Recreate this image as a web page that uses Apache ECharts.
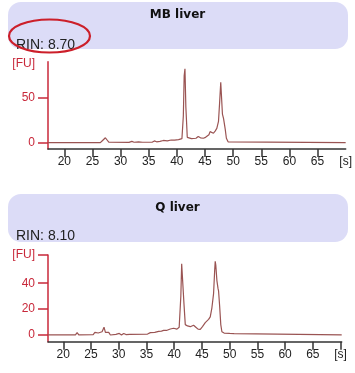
<!DOCTYPE html>
<html>
<head>
<meta charset="utf-8">
<script src="https://cdn.jsdelivr.net/npm/echarts@6/dist/echarts.min.js"></script>
<style>
html,body{margin:0;padding:0;background:#fff;}
#c{width:355px;height:373px;}
</style>
</head>
<body>
<div id="c"></div>
<script>
// ---- data ----
const panelTitles = ['MB liver', 'Q liver'];
const rinLabels = ['RIN: 8.70', 'RIN: 8.10'];
const xTickValues = [20, 25, 30, 35, 40, 45, 50, 55, 60, 65];
const xLabelValues = [20, 25, 30, 35, 40, 45, 50, 55, 60, 65, 70];
const topYTicks = [0, 50];
const bottomYTicks = [0, 20, 40, 61.8];

const mbTime = [17.1, 22.3, 22.6, 22.9, 26.4, 26.8, 27.1, 27.3, 27.6, 27.9, 31.5, 32, 32.4, 33.2, 33.5, 33.9, 35.6, 36, 36.4, 37, 37.6, 38.3, 39, 39.6, 40.3, 40.9, 41.15, 41.3, 41.44, 41.6, 41.85, 42.2, 42.6, 42.9, 43.4, 43.8, 44.2, 44.7, 45.1, 45.4, 45.7, 45.9, 46.2, 46.5, 46.8, 47.1, 47.4, 47.6, 47.8, 47.95, 48.1, 48.3, 48.45, 48.6, 48.8, 49.1, 49.4, 70];
const mbFU = [0, 0, 0.8, 0, 0, 2.5, 4, 5.5, 3, 0.5, 0.3, 1.5, 0.5, 0.8, 1.8, 0.5, 0.5, 2, 1, 1.5, 2.5, 2, 3, 2.8, 3.5, 4.5, 30, 75, 83, 40, 6, 5, 4.5, 5.5, 5, 7, 5.5, 5, 6, 4, 9, 12.4, 11, 10.6, 13, 16, 24, 45, 68, 50, 32, 27, 25, 15, 5, 1, 0, 0];

const qTime = [17.25, 22.2, 22.5, 22.8, 25.4, 25.7, 26, 26.3, 26.6, 27, 27.35, 27.6, 27.9, 28.2, 28.5, 29.5, 30.1, 30.5, 30.9, 31.3, 31.6, 32, 35.2, 35.7, 36.5, 37.2, 37.7, 38.1, 38.6, 39.3, 39.9, 40.5, 40.9, 41.2, 41.35, 41.6, 41.75, 42.0, 42.4, 42.9, 43.2, 43.5, 43.9, 44.3, 44.7, 45.1, 45.6, 46.2, 46.5, 46.8, 47.1, 47.3, 47.4, 47.5, 47.7, 47.9, 48.0, 48.2, 48.4, 48.6, 49, 50, 50.8, 51, 70.2];
const qFU = [0, 0, 1.8, 0, 0.3, 2, 0.5, 1.5, 0.5, 2.5, 6, 2, 0.5, 2, 0, 0.5, 1.2, 0, 1.2, 0.3, 1.3, 0.5, 0.7, 1.8, 2, 2.8, 3, 3.5, 3.5, 4.6, 5.2, 4.5, 6, 30, 55, 55, 25, 8, 7, 6.4, 7, 7.5, 6, 4.5, 4.4, 6.5, 9.5, 12, 14, 21, 32, 50, 57, 54, 42, 36, 34, 22, 8, 2.5, 1.5, 1.2, 1, 0, 0];

// ---- styles ----
const RED = '#c8283a';
const TRACE = '#9a5453';
const FONT = 'Liberation Sans';

function zip(a, b) { return a.map((v, i) => [v, b[i]]); }

function xAxisCfg(gridIndex, min, max, tickVals) {
  return {
    type: 'value', gridIndex, min, max,
    splitLine: { show: false },
    axisLine: { show: true, onZero: false, lineStyle: { color: '#333', width: 1.5 } },
    axisTick: { show: true, length: 8, lineStyle: { color: '#333', width: 1.5 }, customValues: tickVals },
    axisLabel: {
      show: true, margin: 7, color: '#222', fontFamily: FONT, fontSize: 12,
      customValues: xLabelValues,
      formatter: v => (v === 70 ? '[s]' : String(v))
    }
  };
}

function yAxisCfg(gridIndex, min, max, tickVals, labelVals, fuVal) {
  return {
    type: 'value', gridIndex, min, max,
    splitLine: { show: false },
    axisLine: { show: true, onZero: false, lineStyle: { color: RED, width: 1.5 } },
    axisTick: { show: true, length: 10, lineStyle: { color: RED, width: 1.5 }, customValues: tickVals },
    axisLabel: {
      show: true, margin: 13, color: RED, fontFamily: FONT, fontSize: 12,
      customValues: labelVals,
      formatter: v => (v === fuVal ? '[FU]' : String(v))
    }
  };
}

const chart = echarts.init(document.getElementById('c'), null, { renderer: 'canvas' });
chart.setOption({
  backgroundColor: '#fff',
  animation: false,
  graphic: [
    { type: 'rect', z: 0, shape: { x: 8, y: 2, width: 340, height: 47, r: 13 }, style: { fill: '#dcdcf7' } },
    { type: 'rect', z: 0, shape: { x: 8, y: 194, width: 340, height: 48, r: 13 }, style: { fill: '#dcdcf7' } },
    { type: 'ellipse', z: 10, shape: { cx: 49.5, cy: 36, rx: 40.5, ry: 16.5 }, style: { fill: 'none', stroke: '#cc1f2a', lineWidth: 2.2 } }
  ],
  title: [
    { text: panelTitles[0], left: 'center', top: 4, textStyle: { fontFamily: 'DejaVu Sans', fontWeight: 'bold', fontSize: 12, color: '#111' } },
    { text: rinLabels[0], left: 11, top: 33, textStyle: { fontFamily: FONT, fontWeight: 'normal', fontSize: 14, color: '#222' } },
    { text: panelTitles[1], left: 'center', top: 197, textStyle: { fontFamily: 'DejaVu Sans', fontWeight: 'bold', fontSize: 12, color: '#111' } },
    { text: rinLabels[1], left: 11, top: 224, textStyle: { fontFamily: FONT, fontWeight: 'normal', fontSize: 14, color: '#222' } }
  ],
  grid: [
    { left: 48, right: 9.2, top: 61.7, height: 87.3 },
    { left: 48, right: 13.3, top: 255, height: 86.7 }
  ],
  xAxis: [
    xAxisCfg(0, 17.1, 70, xTickValues),
    xAxisCfg(1, 17.25, 70.2, xLabelValues)
  ],
  yAxis: [
    yAxisCfg(0, -7.1, 91, topYTicks, [0, 50, 88.5], 88.5),
    yAxisCfg(1, -5.2, 61.8, bottomYTicks, bottomYTicks, 61.8)
  ],
  series: [
    { type: 'line', xAxisIndex: 0, yAxisIndex: 0, data: zip(mbTime, mbFU), showSymbol: false, symbol: 'none', lineStyle: { color: TRACE, width: 1.2 } },
    { type: 'line', xAxisIndex: 1, yAxisIndex: 1, data: zip(qTime, qFU), showSymbol: false, symbol: 'none', lineStyle: { color: TRACE, width: 1.2 } }
  ]
});
</script>
</body>
</html>
